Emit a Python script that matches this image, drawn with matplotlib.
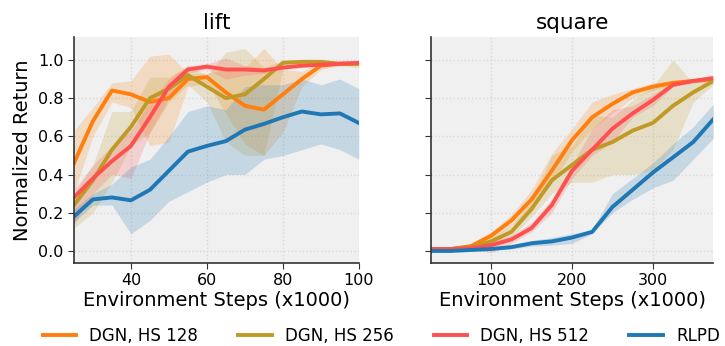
import matplotlib
matplotlib.use("Agg")
import matplotlib.pyplot as plt
import numpy as np

# ---- data: lift ----
lift_x = [25, 30, 35, 40, 45, 50, 55, 60, 65, 70, 75, 80, 85, 90, 95, 100]
lift_hs128 = [0.46, 0.68, 0.84, 0.82, 0.78, 0.80, 0.90, 0.91, 0.83, 0.76, 0.74, 0.82, 0.90, 0.97, 0.98, 0.98]
lift_hs128_lo = [0.30, 0.60, 0.78, 0.75, 0.55, 0.57, 0.86, 0.88, 0.72, 0.56, 0.50, 0.62, 0.86, 0.95, 0.97, 0.97]
lift_hs128_hi = [0.63, 0.75, 0.88, 0.89, 1.02, 1.03, 0.93, 0.93, 0.95, 0.96, 1.06, 0.95, 0.94, 0.99, 0.99, 0.99]
lift_hs256 = [0.24, 0.37, 0.53, 0.65, 0.80, 0.85, 0.92, 0.86, 0.80, 0.82, 0.90, 0.985, 0.99, 0.99, 0.98, 0.98]
lift_hs256_lo = [0.12, 0.20, 0.36, 0.55, 0.62, 0.78, 0.87, 0.78, 0.57, 0.50, 0.50, 0.95, 0.98, 0.98, 0.97, 0.96]
lift_hs256_hi = [0.30, 0.45, 0.73, 0.73, 0.91, 0.91, 0.97, 0.92, 1.04, 1.06, 0.96, 1.00, 1.00, 1.00, 0.99, 0.99]
lift_hs512 = [0.28, 0.38, 0.47, 0.55, 0.70, 0.86, 0.95, 0.965, 0.95, 0.95, 0.945, 0.96, 0.97, 0.975, 0.98, 0.985]
lift_hs512_lo = [0.14, 0.30, 0.40, 0.38, 0.62, 0.80, 0.93, 0.95, 0.90, 0.92, 0.93, 0.95, 0.96, 0.97, 0.97, 0.975]
lift_hs512_hi = [0.32, 0.45, 0.55, 0.63, 0.78, 0.90, 0.97, 0.98, 1.01, 0.97, 0.96, 0.97, 0.98, 0.98, 0.99, 0.99]
lift_rlpd = [0.18, 0.27, 0.28, 0.265, 0.32, 0.42, 0.52, 0.55, 0.575, 0.635, 0.665, 0.70, 0.73, 0.715, 0.72, 0.67]
lift_rlpd_lo = [0.15, 0.24, 0.24, 0.09, 0.16, 0.26, 0.31, 0.36, 0.40, 0.40, 0.48, 0.50, 0.53, 0.56, 0.53, 0.48]
lift_rlpd_hi = [0.22, 0.30, 0.35, 0.44, 0.48, 0.60, 0.73, 0.76, 0.74, 0.86, 0.87, 0.87, 0.90, 0.87, 0.90, 0.85]

# ---- data: square ----
sq_x = [25, 50, 75, 100, 125, 150, 175, 200, 225, 250, 275, 300, 325, 350, 375]
sq_hs128 = [0.01, 0.01, 0.025, 0.08, 0.16, 0.27, 0.42, 0.58, 0.70, 0.77, 0.83, 0.86, 0.88, 0.89, 0.90]
sq_hs128_lo = [0.005, 0.01, 0.02, 0.06, 0.13, 0.23, 0.35, 0.52, 0.64, 0.72, 0.80, 0.84, 0.87, 0.88, 0.89]
sq_hs128_hi = [0.015, 0.02, 0.04, 0.10, 0.19, 0.32, 0.51, 0.64, 0.78, 0.82, 0.85, 0.88, 0.89, 0.90, 0.91]
sq_hs256 = [0.01, 0.01, 0.02, 0.05, 0.10, 0.22, 0.37, 0.45, 0.53, 0.57, 0.63, 0.67, 0.76, 0.83, 0.89]
sq_hs256_lo = [0.005, 0.005, 0.015, 0.03, 0.07, 0.18, 0.30, 0.36, 0.36, 0.40, 0.40, 0.42, 0.53, 0.78, 0.87]
sq_hs256_hi = [0.015, 0.02, 0.03, 0.07, 0.13, 0.26, 0.50, 0.55, 0.71, 0.70, 0.79, 0.86, 1.00, 0.88, 0.91]
sq_hs512 = [0.01, 0.01, 0.015, 0.03, 0.06, 0.12, 0.24, 0.42, 0.53, 0.64, 0.72, 0.79, 0.87, 0.89, 0.905]
sq_hs512_lo = [0.005, 0.005, 0.01, -0.01, 0.04, 0.10, 0.20, 0.38, 0.50, 0.57, 0.70, 0.76, 0.86, 0.88, 0.89]
sq_hs512_hi = [0.015, 0.015, 0.02, 0.05, 0.08, 0.15, 0.27, 0.45, 0.64, 0.74, 0.76, 0.82, 0.885, 0.90, 0.92]
sq_rlpd = [0.0, 0.0, 0.005, 0.01, 0.02, 0.04, 0.05, 0.07, 0.10, 0.23, 0.32, 0.41, 0.49, 0.57, 0.69]
sq_rlpd_lo = [-0.005, -0.005, 0.0, 0.005, 0.01, 0.025, 0.03, 0.04, 0.09, 0.20, 0.27, 0.33, 0.37, 0.48, 0.59]
sq_rlpd_hi = [0.005, 0.005, 0.01, 0.015, 0.03, 0.055, 0.07, 0.09, 0.11, 0.30, 0.38, 0.46, 0.56, 0.65, 0.77]

labels = ["DGN, HS 128", "DGN, HS 256", "DGN, HS 512", "RLPD"]
colors = ["#ff7f0e", "#bf9a26", "#ff5050", "#1f77b4"]

fig = plt.figure(figsize=(7.25, 3.46), dpi=100)
ax1 = fig.add_axes([0.102, 0.240, 0.393, 0.653])
ax2 = fig.add_axes([0.594, 0.240, 0.390, 0.653], sharey=ax1)

panels = [
    (ax1, "lift", lift_x, [(lift_hs128, lift_hs128_lo, lift_hs128_hi),
                           (lift_hs256, lift_hs256_lo, lift_hs256_hi),
                           (lift_hs512, lift_hs512_lo, lift_hs512_hi),
                           (lift_rlpd, lift_rlpd_lo, lift_rlpd_hi)]),
    (ax2, "square", sq_x, [(sq_hs128, sq_hs128_lo, sq_hs128_hi),
                           (sq_hs256, sq_hs256_lo, sq_hs256_hi),
                           (sq_hs512, sq_hs512_lo, sq_hs512_hi),
                           (sq_rlpd, sq_rlpd_lo, sq_rlpd_hi)]),
]

handles = []
for ax, title, x, series in panels:
    ax.set_facecolor("#f0f0f0")
    ax.grid(True, linestyle=":", color="#d8d8d8", linewidth=1.0)
    ax.set_axisbelow(True)
    for (m, lo, hi), c, lab in zip(series, colors, labels):
        ax.fill_between(x, lo, hi, color=c, alpha=0.2, linewidth=0)
        h, = ax.plot(x, m, color=c, linewidth=2.8, label=lab)
        if ax is ax1:
            handles.append(h)
    ax.set_title(title, fontsize=15.5)
    ax.set_xlabel("Environment Steps (x1000)", fontsize=14, labelpad=2)
    ax.set_xlim(x[0], x[-1])
    for s in ["top", "right"]:
        ax.spines[s].set_visible(False)
    for s in ["left", "bottom"]:
        ax.spines[s].set_color("#333333")
        ax.spines[s].set_linewidth(1.2)
    ax.tick_params(labelsize=11.5, direction="out", length=4, color="#333333")

ax1.set_ylim(-0.063, 1.12)
ax1.set_yticks([0.0, 0.2, 0.4, 0.6, 0.8, 1.0])
ax1.set_xticks([40, 60, 80, 100])
ax2.set_xticks([100, 200, 300])
ax1.set_ylabel("Normalized Return", fontsize=14)
plt.setp(ax2.get_yticklabels(), visible=False)

fig.legend(handles=handles, labels=labels, loc="lower center", ncol=4,
           frameon=False, fontsize=12, bbox_to_anchor=(0.526, -0.04),
           columnspacing=2.4, handlelength=2.0)

fig.savefig("out.png", dpi=100)
